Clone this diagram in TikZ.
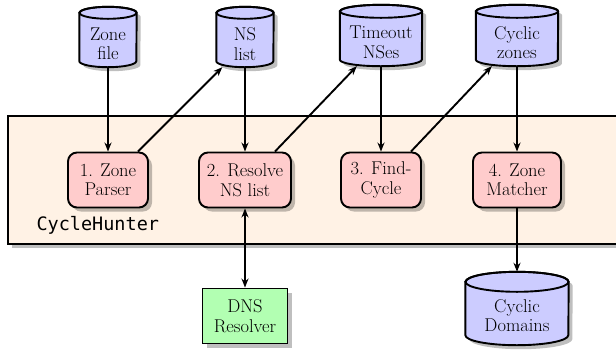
\documentclass[tikz,border=0pt]{standalone}
\usepackage{fontspec}
\setmonofont{DejaVu Sans Mono}
\usetikzlibrary{shadows,arrows.meta}
% name, x, y, width, height, ellipse radius, text
\newcommand{\dbcyl}[7]{%
  \node[minimum width=#4pt, minimum height=#5pt, inner sep=0pt] (#1) at (#2,#3) {};
  \draw[lw, fill=blue!20, shad] ([yshift=-#6pt]#1.north west) -- ([yshift=#6pt]#1.south west)
    arc[start angle=180, end angle=360, x radius={0.5*#4pt}, y radius=#6pt]
    -- ([yshift=-#6pt]#1.north east)
    arc[start angle=0, end angle=180, x radius={0.5*#4pt}, y radius=#6pt] -- cycle;
  \draw[lw] ([yshift=-#6pt]#1.north) ellipse[x radius={0.5*#4pt}, y radius=#6pt];
  \node[align=center, inner sep=0pt] (#1-t) at ([yshift=-7pt]#1.center) {#7};
}
\begin{document}
\begin{tikzpicture}[x=1pt,y=-1pt,
  font=\fontsize{18.5}{19.5}\selectfont,
  lw/.style={line width=1.9pt},
  shad/.style={drop shadow={shadow xshift=4pt,shadow yshift=-4pt,fill=black,opacity=0.25}},
  proc/.style={rectangle, rounded corners=9pt, draw, lw, fill=red!20, shad, align=center,
    minimum height=55pt, inner sep=1pt},
  ext/.style={rectangle, draw, lw, fill=green!30, shad, align=center, minimum height=55pt, minimum width=85pt, inner sep=1pt},
  conn/.style={lw, -{Stealth[length=9pt,width=7pt]}},
  bconn/.style={lw, {Stealth[length=9pt,width=7pt]}-{Stealth[length=9pt,width=7pt]}}
]
\useasboundingbox (0,0) rectangle (616,349);
\node[draw, lw, fill=orange!10, shad, minimum width=640pt, minimum height=128pt, anchor=north west, inner sep=0pt] (box) at (7,115) {};
\node[font=\ttfamily\fontsize{18.5}{20}\selectfont, anchor=west] (lbl) at (33,225) {CycleHunter};

\dbcyl{zf}{108}{37}{57}{60}{6}{Zone\\file}
\dbcyl{ns}{245}{37}{57}{60}{6}{NS\\list}
\dbcyl{to}{381}{35.5}{82}{61}{6.5}{Timeout\\NSes}
\dbcyl{cz}{517}{35.5}{82}{61}{6.5}{Cyclic\\zones}

\node[proc, minimum width=80pt] (p1) at (108,180) {1. Zone\\Parser};
\node[proc, minimum width=92pt] (p2) at (245,180) {2. Resolve\\NS list};
\node[proc, minimum width=80pt] (p3) at (381,180) {3. Find-\\Cycle};
\node[proc, minimum width=88pt] (p4) at (517,180) {4. Zone\\Matcher};

\node[ext] (dns) at (245,316) {DNS\\Resolver};
\dbcyl{cd}{517}{308.5}{103}{73}{10}{Cyclic\\Domains}

\draw[conn] (zf.south) -- (p1.north);
\draw[conn] ([xshift=-11pt]p1.north east) -- ([xshift=6pt]ns.south west);
\draw[conn] (ns.south) -- (p2.north);
\draw[conn] ([xshift=-17pt]p2.north east) -- ([xshift=17pt]to.south west);
\draw[conn] (to.south) -- (p3.north);
\draw[conn] ([xshift=-11pt]p3.north east) -- ([xshift=16pt]cz.south west);
\draw[conn] (cz.south) -- (p4.north);
\draw[conn] (p4.south) -- (cd.north);
\draw[bconn] (p2.south) -- (dns.north);
\end{tikzpicture}
\end{document}
